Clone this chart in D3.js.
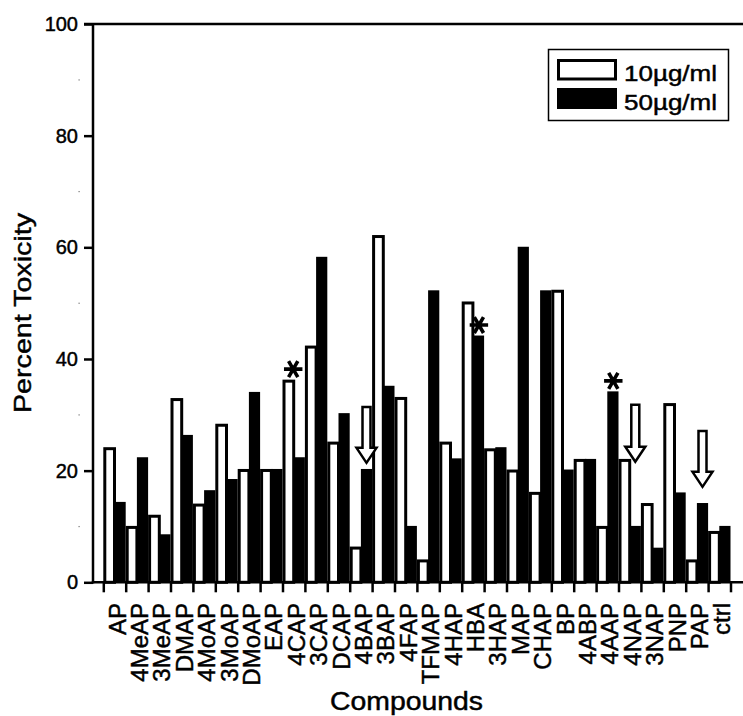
<!DOCTYPE html>
<html>
<head>
<meta charset="utf-8">
<script src="https://cdn.jsdelivr.net/npm/d3@7"></script>
<style>
  body { margin: 0; background: #fff; }
  svg { display: block; font-family: "Liberation Sans", Arial, sans-serif; }
  svg text { stroke: #000; stroke-width: 0.45px; }
</style>
</head>
<body>
<script>
// compounds along the x axis
const categories = ['AP', '4MeAP', '3MeAP', 'DMAP', '4MoAP', '3MoAP', 'DMoAP', 'EAP', '4CAP',
  '3CAP', 'DCAP', '4BAP', '3BAP', '4FAP', 'TFMAP', '4HAP', 'HBA', '3HAP', 'MAP', 'CHAP', 'BP',
  '4ABP', '4AAP', '4NAP', '3NAP', 'PNP', 'PAP', 'ctrl'];

// percent toxicity at each dose
const dose10 = [24.2, 10.1, 12.1, 33.0, 14.1, 28.4, 20.3, 20.3, 36.3, 42.4, 25.2, 6.4, 62.2, 33.2,
  4.1, 25.2, 50.3, 24.0, 20.2, 16.2, 52.4, 22.1, 10.1, 22.1, 14.2, 32.1, 4.1, 9.2];
const dose50 = [14.4, 22.4, 8.6, 26.4, 16.5, 18.5, 34.1, 20.3, 22.4, 58.3, 30.3, 20.3, 35.2, 10.1,
  52.3, 22.2, 44.2, 24.2, 60.1, 52.3, 20.2, 22.1, 34.2, 10.1, 6.2, 16.1, 14.2, 10.1];

const seriesNames = ['10\u00b5g/ml', '50\u00b5g/ml'];
const yTicks = [0, 20, 40, 60, 80, 100];
const yMinor = [10, 30, 50, 70, 90];

// significance marks and arrows (compound, value in percent)
const stars = [['4CAP', 36.3, 0], ['HBA', 44.2, 1], ['4AAP', 34.2, 1]];
const arrows = [['4BAP', 31.4, 21.4], ['4NAP', 31.8, 21.6], ['PAP', 27.1, 17.1]];

const width = 743;
const height = 716;
const axisX = 93;

const svg = d3.select('body').append('svg')
  .attr('width', width)
  .attr('height', height);

const x = d3.scaleBand()
  .domain(categories)
  .range([103.3, 730.5])
  .padding(0);

const y = d3.scaleLinear()
  .domain([0, 100])
  .range([582.3, 24]);

const half = x.bandwidth() / 2;

// bars: white (10) on the left half, black (50) on the right half
const rows = categories.map((c, i) => ({ c, a: dose10[i], b: dose50[i] }));

svg.append('g')
  .selectAll('rect')
  .data(rows)
  .join('rect')
  .attr('x', (d) => x(d.c) + 1.5)
  .attr('y', (d) => y(d.a) + 1.5)
  .attr('width', half - 1.5)
  .attr('height', (d) => y(0) - y(d.a) - 1.5)
  .attr('fill', '#fff')
  .attr('stroke', '#000')
  .attr('stroke-width', 3);

svg.append('g')
  .selectAll('rect')
  .data(rows)
  .join('rect')
  .attr('x', (d) => x(d.c) + half)
  .attr('y', (d) => y(d.b))
  .attr('width', half)
  .attr('height', (d) => y(0) - y(d.b))
  .attr('fill', '#000');

// y axis
const yAxis = svg.append('g')
  .attr('transform', `translate(${axisX},0)`)
  .call(d3.axisLeft(y).tickValues(yTicks).tickSize(9).tickPadding(6));
yAxis.select('.domain').remove();
yAxis.selectAll('line').attr('stroke-width', 2.5);
yAxis.selectAll('text')
  .attr('font-size', 20)
  .attr('font-family', '"Liberation Sans", Arial, sans-serif')
  .attr('fill', '#000');

svg.append('g')
  .selectAll('rect')
  .data(yMinor)
  .join('rect')
  .attr('x', 78.5)
  .attr('y', (d) => y(d) - 0.5)
  .attr('width', 1.2)
  .attr('height', 1.2)
  .attr('fill', '#777');

// frame lines
svg.append('line')
  .attr('x1', axisX).attr('x2', axisX)
  .attr('y1', y(100) - 1).attr('y2', y(0) + 1.2)
  .attr('stroke', '#000').attr('stroke-width', 2.5);
svg.append('line')
  .attr('x1', 84).attr('x2', width)
  .attr('y1', y(100)).attr('y2', y(100))
  .attr('stroke', '#000').attr('stroke-width', 2.5);
svg.append('line')
  .attr('x1', axisX - 1.2).attr('x2', width)
  .attr('y1', y(0)).attr('y2', y(0))
  .attr('stroke', '#000').attr('stroke-width', 2.5);

// x ticks on the band edges
const xb = d3.scaleLinear().domain([0, categories.length]).range(x.range());
const xAxis = svg.append('g')
  .attr('transform', `translate(0,${y(0)})`)
  .call(d3.axisBottom(xb).tickValues(d3.range(categories.length + 1)).tickSize(10).tickFormat(''));
xAxis.select('.domain').remove();
xAxis.selectAll('line').attr('stroke-width', 2.5);

// compound labels
svg.append('g')
  .selectAll('text')
  .data(categories)
  .join('text')
  .attr('transform', (d) => `translate(${x(d) + half + 11},603) rotate(-90)`)
  .attr('text-anchor', 'end')
  .attr('font-size', 24)
  .text((d) => d);

// axis titles
svg.append('text')
  .attr('transform', 'translate(30.5,313) rotate(-90)')
  .attr('text-anchor', 'middle')
  .attr('font-size', 24)
  .attr('textLength', 200)
  .attr('lengthAdjust', 'spacingAndGlyphs')
  .text('Percent Toxicity');

svg.append('text')
  .attr('x', 330)
  .attr('y', 710)
  .attr('font-size', 25)
  .attr('textLength', 153)
  .attr('lengthAdjust', 'spacingAndGlyphs')
  .text('Compounds');

// asterisks
const star = d3.symbol().type(d3.symbolAsterisk).size(240);
svg.append('g')
  .selectAll('path')
  .data(stars)
  .join('path')
  .attr('transform', (d) => `translate(${x(d[0]) + (d[2] ? half + 6 : half - 0.5)},${y(d[1]) - 10.5}) rotate(90)`)
  .attr('d', star)
  .attr('fill', 'none')
  .attr('stroke', '#000')
  .attr('stroke-width', 3.6);

// hollow arrows
svg.append('g')
  .selectAll('path')
  .data(arrows)
  .join('path')
  .attr('d', (d) => {
    const cx = x(d[0]) + half * 1.5;
    const top = y(d[1]);
    const tip = y(d[2]);
    const neck = tip - 15;
    return `M${cx - 4},${top}H${cx + 4}V${neck}H${cx + 10}L${cx},${tip}L${cx - 10},${neck}H${cx - 4}Z`;
  })
  .attr('fill', '#fff')
  .attr('stroke', '#000')
  .attr('stroke-width', 2.5);

// legend
const legend = svg.append('g');
legend.append('rect')
  .attr('x', 548.5).attr('y', 49.5)
  .attr('width', 180).attr('height', 71)
  .attr('fill', '#fff').attr('stroke', '#000').attr('stroke-width', 1.5);
legend.append('rect')
  .attr('x', 558.5).attr('y', 60.5)
  .attr('width', 57).attr('height', 18.5)
  .attr('fill', '#fff').attr('stroke', '#000').attr('stroke-width', 3);
legend.append('rect')
  .attr('x', 557).attr('y', 88)
  .attr('width', 60).attr('height', 21)
  .attr('fill', '#000');
legend.selectAll('text.lab')
  .data(seriesNames)
  .join('text')
  .attr('class', 'lab')
  .attr('x', 624)
  .attr('y', (d, i) => 81 + i * 29)
  .attr('font-size', 22)
  .attr('textLength', 93)
  .attr('lengthAdjust', 'spacingAndGlyphs')
  .text((d) => d);
</script>
</body>
</html>
